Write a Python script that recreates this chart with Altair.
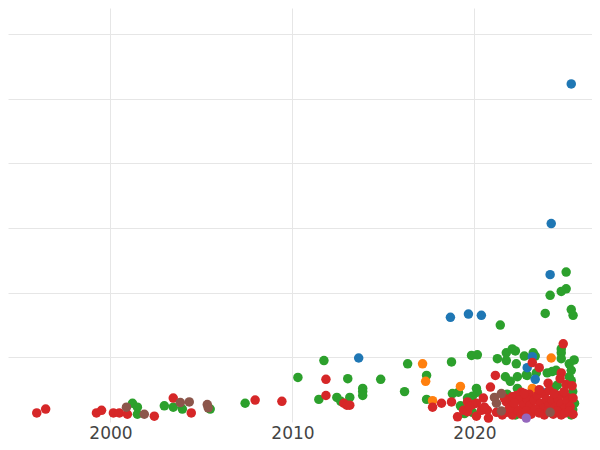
import altair as alt
import pandas as pd

# Category colours (category10 order)
categories = ["A", "B", "C", "D", "E", "F"]
palette = ["#1f77b4", "#ff7f0e", "#2ca02c", "#d62728", "#9467bd", "#8c564b"]

green_year = [2001.21, 2001.48, 2001.48, 2002.96, 2003.45, 2003.95, 2005.48, 2007.40, 2010.30,
              2011.73, 2013.04, 2014.85, 2011.45, 2012.44, 2013.15, 2012.66, 2013.86, 2013.86,
              2013.86, 2016.16, 2016.33, 2017.37, 2017.37, 2018.74, 2019.84, 2020.16, 2021.26,
              2021.75, 2021.75, 2022.08, 2021.42, 2021.70, 2021.97, 2018.79, 2019.12, 2020.11,
              2020.16, 2019.89, 2019.62, 2019.89, 2019.23, 2019.45, 2022.30, 2022.74, 2023.23,
              2023.34, 2022.25, 2022.36, 2022.90, 2022.36, 2023.40, 2022.85, 2024.77, 2024.77,
              2024.77, 2025.21, 2025.48, 2025.32, 2025.32, 2024.27, 2024.00, 2024.49, 2024.55,
              2024.38, 2025.37, 2025.32, 2022.25, 2025.04, 2025.04, 2024.77, 2024.16, 2023.89,
              2025.32, 2025.42, 2025.21, 2025.40, 2025.50, 2025.40, 2021.80, 2021.65]
green_value = [0.29, 0.23, 0.12, 0.25, 0.23, 0.20, 0.20, 0.29, 0.69,
               0.95, 0.67, 0.66, 0.35, 0.38, 0.38, 0.32, 0.52, 0.47,
               0.41, 0.47, 0.90, 0.72, 0.35, 0.93, 1.03, 1.04, 0.98,
               1.07, 0.95, 1.13, 1.50, 0.70, 0.63, 0.44, 0.46, 0.52,
               0.46, 0.40, 0.37, 0.15, 0.25, 0.13, 0.90, 1.02, 1.07,
               1.02, 1.10, 0.70, 0.72, 0.52, 0.76, 0.73, 1.13, 1.07,
               0.98, 0.90, 0.96, 0.80, 0.64, 0.78, 0.76, 0.80, 0.57,
               0.52, 0.34, 0.11, 0.11, 2.32, 2.06, 2.02, 1.96, 1.68,
               1.74, 1.65, 0.70, 0.47, 0.29, 0.19, 0.43, 0.15]

blue_year = [2025.32, 2024.22, 2024.16, 2018.68, 2019.67, 2020.38, 2013.64, 2023.18, 2022.90,
             2023.34, 2023.67]
blue_value = [5.23, 3.07, 2.28, 1.62, 1.67, 1.65, 0.99, 1.01, 0.84, 0.66, 0.47]

orange_year = [2017.15, 2017.32, 2017.70, 2019.23, 2024.22, 2023.18, 2019.73]
orange_value = [0.90, 0.63, 0.33, 0.55, 0.99, 0.52, 0.26]

red_year = [1995.95, 1996.44, 1999.23, 1999.51, 2000.16, 2000.49, 2000.93, 2002.41, 2003.45,
            2004.44, 2007.95, 2009.42, 2011.84, 2011.84, 2012.82, 2012.99, 2013.15, 2017.70,
            2018.19, 2018.74, 2019.07, 2019.40, 2019.62, 2019.62, 2020.11, 2020.11, 2019.89,
            2020.49, 2020.71, 2020.77, 2020.88, 2021.15, 2020.38, 2019.73, 2021.75, 2021.75,
            2022.08, 2022.08, 2022.08, 2024.88, 2023.18, 2023.56, 2024.77, 2024.71, 2025.04,
            2025.37, 2024.05, 2022.58, 2023.01, 2023.84, 2024.11, 2024.66, 2025.10,
            2022.30, 2022.47, 2022.68, 2022.90, 2023.07, 2023.29, 2023.45, 2023.62, 2023.78,
            2023.95, 2024.11, 2024.27, 2024.44, 2024.60, 2024.77, 2024.93, 2025.10, 2025.26,
            2025.42, 2022.36, 2022.58, 2022.85, 2023.12, 2023.34, 2023.56, 2023.84, 2024.05,
            2024.33, 2024.55, 2024.77, 2024.99, 2025.21, 2025.42, 2022.74, 2023.56, 2024.38,
            2024.93, 2021.92, 2022.19, 2021.64, 2021.53, 2020.55, 2021.21]
red_value = [0.14, 0.20, 0.14, 0.18, 0.14, 0.14, 0.12, 0.09, 0.37,
             0.14, 0.34, 0.32, 0.66, 0.41, 0.29, 0.26, 0.26, 0.23,
             0.29, 0.31, 0.08, 0.18, 0.16, 0.31, 0.29, 0.09, 0.27,
             0.37, 0.18, 0.06, 0.54, 0.72, 0.18, 0.24, 0.31, 0.15,
             0.26, 0.11, 0.39, 1.21, 0.92, 0.84, 0.76, 0.67, 0.58,
             0.56, 0.60, 0.46, 0.43, 0.43, 0.49, 0.41, 0.38,
             0.41, 0.34, 0.26, 0.35, 0.26, 0.34, 0.41, 0.29, 0.21,
             0.35, 0.26, 0.34, 0.23, 0.35, 0.28, 0.20, 0.32, 0.24,
             0.37, 0.18, 0.12, 0.17, 0.12, 0.20, 0.14, 0.11, 0.17,
             0.12, 0.17, 0.11, 0.14, 0.17, 0.12, 0.44, 0.50, 0.44,
             0.47, 0.21, 0.29, 0.37, 0.11, 0.23, 0.15]

brown_year = [2000.88, 2001.86, 2003.84, 2004.33, 2005.32, 2005.37, 2021.10, 2021.48, 2021.21,
              2021.48, 2024.16]
brown_value = [0.23, 0.12, 0.30, 0.31, 0.27, 0.22, 0.38, 0.44, 0.29, 0.17, 0.15]

purple_year = [2022.85]
purple_value = [0.06]

x_ticks = [2000, 2010, 2020]
y_grid = [1, 2, 3, 4, 5, 6]

frames = []
for cat, ys, vs in [("C", green_year, green_value), ("A", blue_year, blue_value),
                    ("B", orange_year, orange_value), ("D", red_year, red_value),
                    ("F", brown_year, brown_value), ("E", purple_year, purple_value)]:
    frames.append(pd.DataFrame({"year": ys, "value": vs, "category": cat}))
df = pd.concat(frames, ignore_index=True)
df["order"] = range(len(df))

chart = alt.Chart(df).mark_circle(size=90, opacity=1).encode(
    x=alt.X("year:Q",
            scale=alt.Scale(domain=[1994.37, 2026.46], nice=False, zero=False),
            axis=alt.Axis(values=x_ticks, format="d", title=None, ticks=False, domain=False,
                          labelFontSize=17, labelFont="DejaVu Sans", labelColor="#444444",
                          labelPadding=3, grid=True, gridColor="#e6e6e6")),
    y=alt.Y("value:Q",
            scale=alt.Scale(domain=[0, 6.405], nice=False),
            axis=alt.Axis(values=y_grid, labels=False, ticks=False, domain=False, title=None,
                          grid=True, gridColor="#e6e6e6")),
    color=alt.Color("category:N", scale=alt.Scale(domain=categories, range=palette), legend=None),
    order=alt.Order("order:Q"),
).properties(
    width=584,
    height=414,
    padding=0,
).configure_view(strokeWidth=0)

chart.save("out.html", embed_options={"renderer": "svg", "actions": False})
